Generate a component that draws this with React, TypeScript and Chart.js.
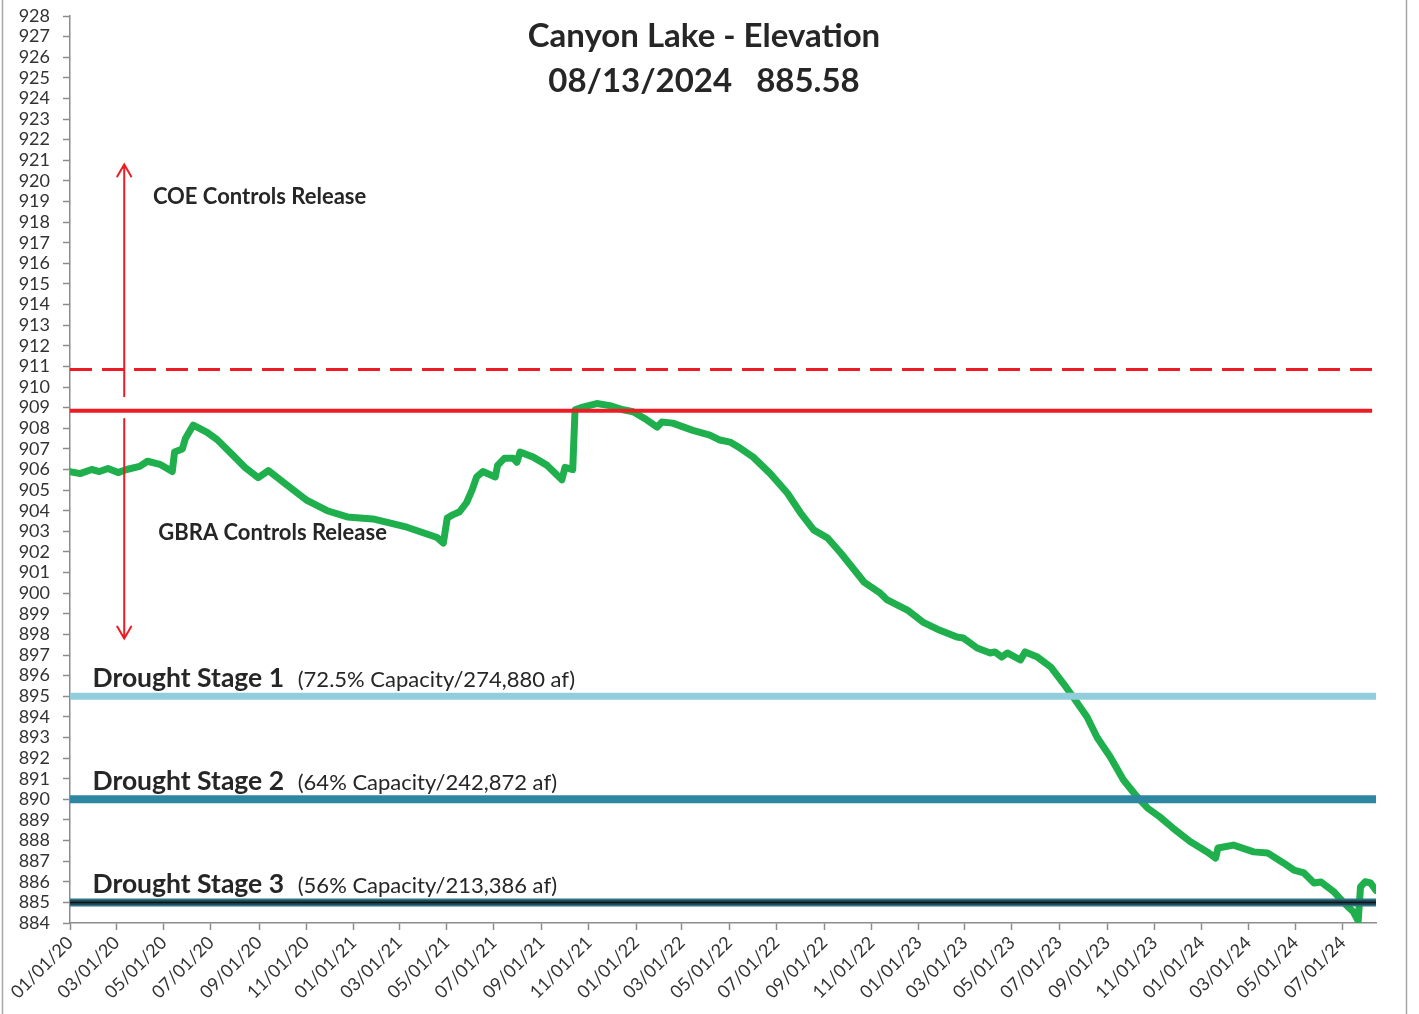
import React, { useEffect, useRef } from 'react';
import { Chart, registerables } from 'chart.js';

Chart.register(...registerables);

// ---------- data ----------
const dates = [
  '2020-01-01', '2020-01-14', '2020-01-29', '2020-02-08', '2020-02-19', '2020-03-03', '2020-03-14', '2020-03-31',
  '2020-04-10', '2020-04-26', '2020-05-12', '2020-05-15', '2020-05-25', '2020-05-29', '2020-06-08', '2020-06-26',
  '2020-07-09', '2020-07-29', '2020-08-14', '2020-08-31', '2020-09-13', '2020-10-07', '2020-11-02', '2020-11-28',
  '2020-12-24', '2021-01-09', '2021-01-26', '2021-03-11', '2021-04-19', '2021-04-27', '2021-05-02', '2021-05-09',
  '2021-05-18', '2021-05-27', '2021-06-03', '2021-06-09', '2021-06-17', '2021-07-03', '2021-07-06', '2021-07-15',
  '2021-07-26', '2021-07-31', '2021-08-04', '2021-08-21', '2021-09-08', '2021-09-27', '2021-10-01', '2021-10-11',
  '2021-10-14', '2021-10-24', '2021-11-11', '2021-11-28', '2021-12-15', '2021-12-28', '2022-01-15', '2022-01-28',
  '2022-02-03', '2022-02-17', '2022-03-15', '2022-04-06', '2022-04-19', '2022-05-02', '2022-05-15', '2022-06-01',
  '2022-06-23', '2022-07-15', '2022-08-01', '2022-08-18', '2022-09-05', '2022-09-22', '2022-10-22', '2022-11-12',
  '2022-11-21', '2022-12-17', '2023-01-06', '2023-01-28', '2023-02-19', '2023-02-27', '2023-03-17', '2023-04-03',
  '2023-04-09', '2023-04-18', '2023-04-25', '2023-05-12', '2023-05-18', '2023-06-03', '2023-06-20', '2023-07-06',
  '2023-07-19', '2023-08-06', '2023-08-19', '2023-09-05', '2023-09-22', '2023-10-10', '2023-10-23', '2023-11-08',
  '2023-11-25', '2023-12-17', '2024-01-08', '2024-01-19', '2024-01-22', '2024-02-11', '2024-03-08', '2024-03-26',
  '2024-04-16', '2024-04-29', '2024-05-12', '2024-05-25', '2024-06-03', '2024-06-20', '2024-07-02', '2024-07-15',
  '2024-07-21', '2024-07-24', '2024-07-30', '2024-08-06', '2024-08-13',
];

const elevation = [
  905.9, 905.8, 906.0, 905.9, 906.05, 905.85, 906.0, 906.15,
  906.4, 906.25, 905.9, 906.85, 907.0, 907.5, 908.15, 907.8,
  907.45, 906.7, 906.1, 905.6, 905.95, 905.25, 904.5, 904.0,
  903.7, 903.65, 903.6, 903.2, 902.7, 902.43, 903.65, 903.8,
  903.95, 904.4, 905.0, 905.64, 905.9, 905.64, 906.2, 906.55,
  906.55, 906.35, 906.85, 906.6, 906.2, 905.5, 906.1, 906.0,
  908.9, 909.03, 909.2, 909.1, 908.9, 908.8, 908.4, 908.06,
  908.3, 908.25, 907.9, 907.67, 907.43, 907.33, 907.04, 906.6,
  905.8, 904.86, 903.9, 903.07, 902.68, 901.95, 900.54, 900.0,
  899.67, 899.18, 898.6, 898.2, 897.87, 897.83, 897.34, 897.1,
  897.15, 896.9, 897.1, 896.76, 897.15, 896.9, 896.42, 895.64,
  894.96, 893.99, 893.0, 892.05, 890.94, 890.1, 889.58, 889.14,
  888.6, 887.95, 887.45, 887.15, 887.64, 887.78, 887.45, 887.4,
  886.9, 886.57, 886.43, 885.94, 885.99, 885.5, 885.0, 884.53,
  884.1, 885.75, 886.0, 885.94, 885.58,
];

const xTickDates = [
  '2020-01-01', '2020-03-01', '2020-05-01', '2020-07-01', '2020-09-01', '2020-11-01',
  '2021-01-01', '2021-03-01', '2021-05-01', '2021-07-01', '2021-09-01', '2021-11-01',
  '2022-01-01', '2022-03-01', '2022-05-01', '2022-07-01', '2022-09-01', '2022-11-01',
  '2023-01-01', '2023-03-01', '2023-05-01', '2023-07-01', '2023-09-01', '2023-11-01',
  '2024-01-01', '2024-03-01', '2024-05-01', '2024-07-01',
];

const startDate = '2020-01-01';
const endDate = '2024-08-13';
const redLineEnd = '2024-08-08';
const yMin = 884;
const yMax = 928;

const coeLevel = 910.85;
const conservationLevel = 908.85;
const droughtLevels = [895, 890, 885];
const droughtNames = ['Drought Stage 1', 'Drought Stage 2', 'Drought Stage 3'];
const droughtNotes = ['(72.5% Capacity/274,880 af)', '(64% Capacity/242,872 af)', '(56% Capacity/213,386 af)'];

const titleLines = ['Canyon Lake - Elevation', '08/13/2024   885.58'];

// ---------- helpers ----------
const DAY = 86400000;
const BASE = Date.UTC(2020, 0, 1);
const toDay = (s: string) => {
  const [y, m, d] = s.split('-').map(Number);
  return Math.round((Date.UTC(y, m - 1, d) - BASE) / DAY);
};
const fmt = (day: number) => {
  const dt = new Date(BASE + day * DAY);
  const mm = String(dt.getUTCMonth() + 1).padStart(2, '0');
  const dd = String(dt.getUTCDate()).padStart(2, '0');
  const yy = String(dt.getUTCFullYear() % 100).padStart(2, '0');
  return `${mm}/${dd}/${yy}`;
};

const FONT = 'Lato, "Open Sans", "DejaVu Sans", sans-serif';
const TEXT = '#262626';
const AXIS = '#8c8c8c';

const xMin = toDay(startDate);
const xMax = toDay(endDate);

const hLine = (v: number, endDay: number) => [
  { x: xMin, y: v },
  { x: endDay, y: v },
];

// text annotations anchored on (day, value)
const textNotes = [
  { text: 'COE Controls Release', day: 107, value: 918.88, bold: true, size: 22 },
  { text: 'GBRA Controls Release', day: 114, value: 902.58, bold: true, size: 22 },
  ...droughtNames.map((n, i) => ({ text: n, day: 29, value: droughtLevels[i] + 0.45, bold: true, size: 26.5 })),
  ...droughtNotes.map((n, i) => ({ text: n, day: 294, value: droughtLevels[i] + 0.45, bold: false, size: 22 })),
];

const arrowCfg = { day: 70, upFrom: 909.55, upTo: 920.8, downFrom: 908.45, downTo: 897.8 };

const overlayPlugin = {
  id: 'overlay',
  afterDatasetsDraw(chart: any) {
    const { ctx, scales } = chart;
    const xs = scales.x;
    const ys = scales.y;
    ctx.save();
    // arrows
    ctx.strokeStyle = '#ed1c24';
    ctx.lineWidth = 2;
    ctx.lineCap = 'round';
    const ax = xs.getPixelForValue(arrowCfg.day);
    const drawArrow = (fromV: number, toV: number) => {
      const y0 = ys.getPixelForValue(fromV);
      const y1 = ys.getPixelForValue(toV);
      const dir = y1 < y0 ? 1 : -1;
      ctx.beginPath();
      ctx.moveTo(ax, y0);
      ctx.lineTo(ax, y1);
      ctx.moveTo(ax - 7, y1 + dir * 12);
      ctx.lineTo(ax, y1);
      ctx.lineTo(ax + 7, y1 + dir * 12);
      ctx.stroke();
    };
    drawArrow(arrowCfg.upFrom, arrowCfg.upTo);
    drawArrow(arrowCfg.downFrom, arrowCfg.downTo);

    // texts
    ctx.fillStyle = TEXT;
    ctx.textAlign = 'left';
    ctx.textBaseline = 'alphabetic';
    textNotes.forEach((t) => {
      ctx.font = `${t.bold ? 'bold ' : ''}${t.size}px ${FONT}`;
      ctx.fillText(t.text, xs.getPixelForValue(t.day), ys.getPixelForValue(t.value));
    });
    ctx.restore();
  },
  afterDraw(chart: any) {
    const { ctx } = chart;
    ctx.save();
    ctx.fillStyle = TEXT;
    ctx.textAlign = 'center';
    ctx.textBaseline = 'alphabetic';
    ctx.font = `bold 33px ${FONT}`;
    ctx.fillText(titleLines[0], 704, 47);
    ctx.fillText(titleLines[1], 704, 92);
    // outer frame sides
    ctx.strokeStyle = '#a6a6a6';
    ctx.lineWidth = 1.5;
    ctx.beginPath();
    ctx.moveTo(2.5, 0);
    ctx.lineTo(2.5, chart.height);
    ctx.moveTo(1406.5, 0);
    ctx.lineTo(1406.5, chart.height);
    ctx.stroke();
    ctx.restore();
  },
};

export default function App() {
  const ref = useRef<HTMLCanvasElement | null>(null);

  useEffect(() => {
    if (!ref.current) return;
    const lineData = dates.map((d, i) => ({ x: toDay(d), y: elevation[i] }));
    const redEnd = toDay(redLineEnd);
    const flat = { pointRadius: 0, fill: false, borderCapStyle: 'butt', tension: 0 };

    const chart = new Chart(ref.current, {
      type: 'line',
      data: {
        datasets: [
          { label: 'COE', data: hLine(coeLevel, redEnd), borderColor: '#ed1c24', borderWidth: 3, borderDash: [22, 10], order: 1, ...flat },
          { label: 'Conservation', data: hLine(conservationLevel, redEnd), borderColor: '#ed1c24', borderWidth: 4, order: 1, ...flat },
          { label: 'Stage 1', data: hLine(droughtLevels[0], xMax), borderColor: '#92cddc', borderWidth: 7, order: 1, ...flat },
          { label: 'Stage 2', data: hLine(droughtLevels[1], xMax), borderColor: '#2e87a0', borderWidth: 8, order: 1, ...flat },
          { label: 'Stage 3 inner', data: hLine(droughtLevels[2], xMax), borderColor: '#111111', borderWidth: 1.5, order: 0, ...flat },
          { label: 'Stage 3 mid', data: hLine(droughtLevels[2], xMax), borderColor: '#1f4d5a', borderWidth: 5, order: 1, ...flat },
          { label: 'Stage 3', data: hLine(droughtLevels[2], xMax), borderColor: '#2f7587', borderWidth: 8, order: 2, ...flat },
          {
            label: 'Elevation',
            data: lineData,
            borderColor: '#1fb04d',
            borderWidth: 7,
            pointRadius: 0,
            fill: false,
            tension: 0,
            borderJoinStyle: 'round',
            borderCapStyle: 'round',
            order: 10,
          },
        ] as any,
      },
      options: {
        animation: false,
        responsive: false,
        layout: { padding: { top: 16, right: 43, bottom: 0, left: 0 } },
        plugins: {
          legend: { display: false },
          tooltip: { enabled: false },
          title: { display: false },
        },
        scales: {
          x: {
            type: 'linear',
            min: xMin,
            max: xMax,
            afterBuildTicks: (scale: any) => {
              scale.ticks = xTickDates.map((d) => ({ value: toDay(d) }));
            },
            afterFit: (scale: any) => {
              scale.height = 91;
            },
            ticks: {
              autoSkip: false,
              minRotation: 45,
              maxRotation: 45,
              padding: 2,
              color: '#333333',
              font: { family: FONT, size: 18 },
              callback: (v: any) => fmt(Number(v)),
            },
            grid: { drawOnChartArea: false, drawTicks: true, tickLength: 7, tickColor: AXIS, tickWidth: 1.5 },
            border: { display: true, color: AXIS, width: 1.5 },
          },
          y: {
            type: 'linear',
            min: yMin,
            max: yMax,
            afterBuildTicks: (scale: any) => {
              const t = [];
              for (let v = yMin; v <= yMax; v++) t.push({ value: v });
              scale.ticks = t;
            },
            afterFit: (scale: any) => {
              scale.width = 70;
              scale.paddingTop = 4;
              scale.paddingBottom = 4;
            },
            ticks: {
              autoSkip: false,
              padding: 13,
              color: '#333333',
              font: { family: FONT, size: 18 },
              callback: (v: any) => String(v),
            },
            grid: { drawOnChartArea: false, drawTicks: true, tickLength: 7, tickColor: AXIS, tickWidth: 1.5 },
            border: { display: true, color: AXIS, width: 1.5 },
          },
        },
      } as any,
      plugins: [overlayPlugin],
    });

    return () => chart.destroy();
  }, []);

  return (
    <div style={{ position: 'fixed', left: 0, top: 0, width: 1419, height: 1014, background: '#ffffff' }}>
      <canvas ref={ref} width={1419} height={1014} style={{ width: 1419, height: 1014, display: 'block' }} />
    </div>
  );
}
